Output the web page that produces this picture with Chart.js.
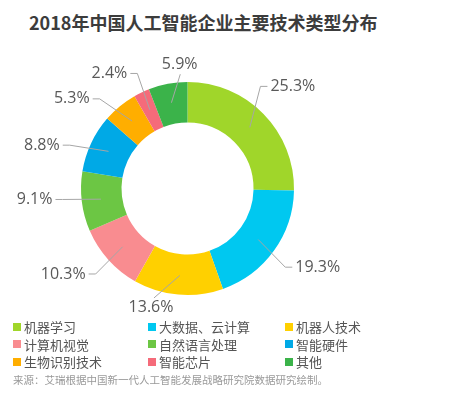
<!DOCTYPE html>
<html>
<head>
<meta charset="utf-8">
<script src="https://cdn.jsdelivr.net/npm/chart.js@4"></script>
<style>
    body { margin: 0; background: #fff; width: 453px; height: 393px; position: relative; overflow: hidden;
           font-family: "Noto Sans CJK SC", "Noto Sans", sans-serif; }
    #title { position: absolute; left: 29px; top: 10px; font-size: 18px; font-weight: bold; color: #3c3c3c; line-height: 24px; white-space: nowrap; }
    #chartBox { position: absolute; left: 0; top: 0; width: 453px; height: 325px; }
    #legend { position: absolute; left: 13px; top: 318px; display: grid; grid-template-columns: 135px 137px auto; }
    .item { display: flex; align-items: center; height: 17.5px; font-size: 13px; color: #555; white-space: nowrap; }
    .box { width: 8px; height: 8px; margin-right: 3px; }
    #source { position: absolute; left: 13px; top: 372px; font-size: 10.5px; color: #999; white-space: nowrap; line-height: 16px; }
</style>
</head>
<body>
<div id="title">2018年中国人工智能企业主要技术类型分布</div>
<div id="chartBox"><canvas id="pieChart"></canvas></div>
<div id="legend"></div>
<div id="source">来源：艾瑞根据中国新一代人工智能发展战略研究院数据研究绘制。</div>
<script>
const categories = ['机器学习', '大数据、云计算', '机器人技术', '计算机视觉', '自然语言处理', '智能硬件', '生物识别技术', '智能芯片', '其他'];
const shares = [25.3, 19.3, 13.6, 10.3, 9.1, 8.8, 5.3, 2.4, 5.9];

const colors = ['#a0d62a', '#00c8f0', '#ffd000', '#f98c90', '#6cc644', '#00a9e6', '#ffae00', '#f56b7a', '#3bb34a'];
// small angle tweaks (degrees) so the labels sit where they do in the original
const labelNudge = [-10, 3, 12, -1, 2, -5, -5, 2, 7];

// legend as html, 3 columns
const legend = document.getElementById('legend');
categories.forEach((name, i) => {
    const item = document.createElement('div');
    item.className = 'item';
    item.innerHTML = `<span class="box" style="background:${colors[i]}"></span>${name}`;
    legend.appendChild(item);
});

// leader lines + percent labels
const leaderLabels = {
    id: 'leaderLabels',
    afterDatasetsDraw(chart) {
        const ctx = chart.ctx;
        const meta = chart.getDatasetMeta(0);
        ctx.save();
        ctx.font = '16px "Open Sans", "Noto Sans", sans-serif';
        ctx.fillStyle = '#595959';
        ctx.strokeStyle = '#a6a6a6';
        ctx.lineWidth = 1;
        ctx.textBaseline = 'middle';
        meta.data.forEach((arc, i) => {
            const p = arc.getProps(['x', 'y', 'startAngle', 'endAngle', 'innerRadius', 'outerRadius']);
            const mid = (p.startAngle + p.endAngle) / 2;
            const a = mid + labelNudge[i] * Math.PI / 180;
            const r0 = (p.innerRadius + p.outerRadius) / 2 + 1;
            const sx = p.x + r0 * Math.cos(mid);
            const sy = p.y + r0 * Math.sin(mid);
            const text = shares[i].toFixed(1) + '%';
            const cosA = Math.cos(a);

            ctx.beginPath();
            ctx.moveTo(sx, sy);
            if (Math.abs(cosA) < 0.35) {
                // top / bottom: short line, text centred past it
                const r1 = p.outerRadius + 8;
                ctx.lineTo(p.x + r1 * Math.cos(a), p.y + r1 * Math.sin(a));
                ctx.stroke();
                const r2 = p.outerRadius + 18;
                ctx.textAlign = 'center';
                ctx.fillText(text, p.x + r2 * Math.cos(a), p.y + r2 * Math.sin(a));
            } else {
                const r1 = p.outerRadius + 19;
                const ex = p.x + r1 * cosA;
                const ey = p.y + r1 * Math.sin(a);
                const dir = cosA > 0 ? 1 : -1;
                ctx.lineTo(ex, ey);
                ctx.lineTo(ex + dir * 7, ey);
                ctx.stroke();
                ctx.textAlign = dir > 0 ? 'left' : 'right';
                ctx.fillText(text, ex + dir * 10, ey);
            }
        });
        ctx.restore();
    }
};

new Chart(document.getElementById('pieChart'), {
    type: 'doughnut',
    data: {
        labels: categories,
        datasets: [{
            data: shares,
            backgroundColor: colors,
            borderWidth: 0
        }]
    },
    options: {
        animation: false,
        responsive: true,
        maintainAspectRatio: false,
        cutout: '62%',
        layout: { padding: { left: 81, right: 159, top: 82, bottom: 30 } },
        plugins: {
            legend: { display: false },
            tooltip: { enabled: false }
        }
    },
    plugins: [leaderLabels]
});
</script>
</body>
</html>
